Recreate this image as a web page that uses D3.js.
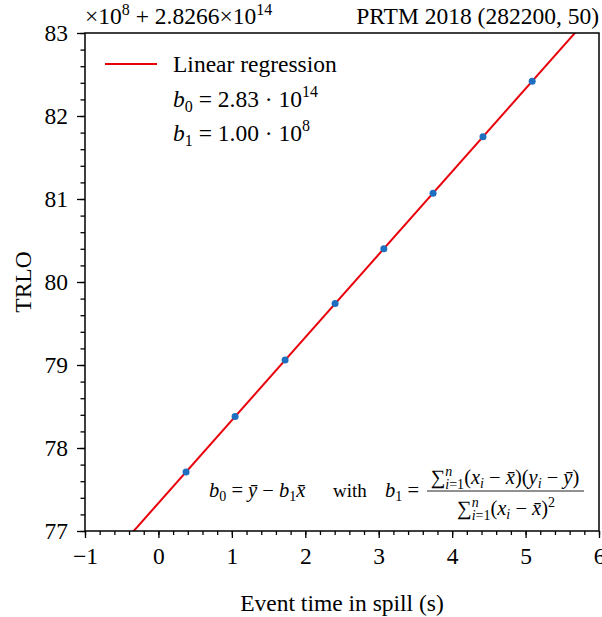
<!DOCTYPE html>
<html>
<head>
<meta charset="utf-8">
<script src="https://cdn.jsdelivr.net/npm/d3@7"></script>
<style>
  body { margin: 0; background: #fff; }
  text { font-family: "Liberation Serif", "DejaVu Serif", serif; fill: #000; white-space: pre; }
</style>
</head>
<body>
<svg id="chart" width="602" height="617"></svg>
<script>
// event times (s) and TRLO values (offset units of 1e8 above 2.8266e14)
const eventTimes = [0.376, 1.044, 1.725, 2.406, 3.07, 3.74, 4.42, 5.09];
const trloValues = [77.71, 78.38, 79.06, 79.74, 80.40, 81.07, 81.75, 82.42];
const xTicks = [-1, 0, 1, 2, 3, 4, 5, 6];
const yTicks = [77, 78, 79, 80, 81, 82, 83];

const svg = d3.select("#chart");
const margin = { left: 85, right: 3, top: 33, bottom: 86 };
const width = 602 - margin.left - margin.right,
    height = 617 - margin.top - margin.bottom;
const fs = "23.5px";

const x = d3.scaleLinear().domain([-1, 6]).range([0, width]);
const y = d3.scaleLinear().domain([77, 83]).range([height, 0]);

const g = svg.append("g").attr("transform", `translate(${margin.left},${margin.top})`);

// least squares fit
const mx = d3.mean(eventTimes), my = d3.mean(trloValues);
const b1 = d3.sum(eventTimes, (t, i) => (t - mx) * (trloValues[i] - my)) /
    d3.sum(eventTimes, t => (t - mx) * (t - mx));
const b0 = my - b1 * mx;

g.append("clipPath").attr("id", "clip")
    .append("rect").attr("width", width).attr("height", height);

g.append("line")
    .attr("clip-path", "url(#clip)")
    .attr("x1", x(-1)).attr("y1", y(b0 + b1 * -1))
    .attr("x2", x(6)).attr("y2", y(b0 + b1 * 6))
    .attr("stroke", "#e8000b").attr("stroke-width", 2);

g.selectAll("circle.pt")
    .data(eventTimes)
    .enter().append("circle")
    .attr("class", "pt")
    .attr("cx", d => x(d))
    .attr("cy", (d, i) => y(trloValues[i]))
    .attr("r", 3.5)
    .attr("fill", "#1f6fc0");

// axes
const xMinor = d3.range(-1, 6.001, 0.2);
const yMinor = d3.range(77, 83.001, 0.2);

const xAxis = g.append("g").attr("transform", `translate(0,${height})`)
    .call(d3.axisBottom(x).tickValues(xMinor).tickSize(4).tickFormat(""));
const xAxisMaj = g.append("g").attr("transform", `translate(0,${height})`)
    .call(d3.axisBottom(x).tickValues(xTicks).tickSize(7).tickPadding(9)
        .tickFormat(d => d < 0 ? "\u2212" + Math.abs(d) : d));
const yAxis = g.append("g")
    .call(d3.axisLeft(y).tickValues(yMinor).tickSize(4.5).tickFormat(""));
const yAxisMaj = g.append("g")
    .call(d3.axisLeft(y).tickValues(yTicks).tickSize(8).tickPadding(9).tickFormat(d3.format("d")));

[xAxis, xAxisMaj, yAxis, yAxisMaj].forEach(a => {
    a.select(".domain").remove();
    a.selectAll("line").attr("stroke", "#000").attr("stroke-width", 1.3);
    a.selectAll("text").style("font-size", fs).style("font-family", "Liberation Serif").attr("fill", "#000");
});

g.append("rect").attr("width", width).attr("height", height)
    .attr("fill", "none").attr("stroke", "#000").attr("stroke-width", 1.5);

// labels
svg.append("text")
    .attr("x", margin.left + width / 2).attr("y", 611)
    .attr("text-anchor", "middle").style("font-size", fs)
    .text("Event time in spill (s)");

svg.append("text")
    .attr("transform", `translate(31,${margin.top + height / 2}) rotate(-90)`)
    .attr("text-anchor", "middle").style("font-size", fs)
    .text("TRLO");

svg.append("text")
    .attr("x", 599).attr("y", 24)
    .attr("text-anchor", "end").style("font-size", fs)
    .text("PRTM 2018 (282200, 50)");

const off = svg.append("text").attr("x", 85).attr("y", 24).style("font-size", fs);
off.append("tspan").text("\u00d710");
off.append("tspan").attr("dy", -9).style("font-size", "16px").text("8");
off.append("tspan").attr("dy", 9).text(" + 2.8266\u00d710");
off.append("tspan").attr("dy", -9).style("font-size", "16px").text("14");

// legend
const leg = g.append("g");
leg.append("line").attr("x1", 20).attr("x2", 72).attr("y1", 31).attr("y2", 31)
    .attr("stroke", "#e8000b").attr("stroke-width", 2);
leg.append("text").attr("x", 88).attr("y", 39).style("font-size", fs).text("Linear regression");

function coefLine(yy, sub, val, exp) {
    const t = leg.append("text").attr("x", 88).attr("y", yy).style("font-size", fs);
    t.append("tspan").style("font-style", "italic").text("b");
    t.append("tspan").attr("dy", 5).style("font-size", "16px").text(sub);
    t.append("tspan").attr("dy", -5).text(" = " + val + " \u00b7 10");
    t.append("tspan").attr("dy", -10).style("font-size", "16px").text(exp);
}
coefLine(74, "0", d3.format(".2f")((b0 * 1e8 + 2.8266e14) / 1e14), "14");
coefLine(108, "1", d3.format(".2f")(b1), "8");

// formula, built from runs: [text, italic, shift] (shift > 0 lowers the run)
const fc = "#222";
const ffs = 20.5, sfs = 14;
function formula(xx, yy, anchor, runs) {
    const t = svg.append("text").attr("x", xx).attr("y", yy).attr("text-anchor", anchor)
        .style("font-size", ffs + "px").attr("fill", fc);
    let cur = 0;
    runs.forEach(([s, italic, shift, dx]) => {
        shift = shift || 0;
        const sp = t.append("tspan").attr("dy", shift - cur).text(s);
        if (dx) sp.attr("dx", dx);
        if (italic) sp.style("font-style", "italic");
        if (shift !== 0) sp.style("font-size", sfs + "px");
        cur = shift;
    });
    return t;
}
const sumRuns = [["\u2211", 0, 0], ["n", 1, -8], ["i", 1, 5, -7], ["=1", 0, 5], ["(", 0, 0]];

formula(209, 497, "start", [
    ["b", 1], ["0", 0, 4], [" = "], ["\u0233", 1], [" \u2212 "], ["b", 1], ["1", 0, 4], ["x\u0304", 1]
]);
svg.append("text").attr("x", 333).attr("y", 497).style("font-size", "19px").attr("fill", fc).text("with");
formula(385, 497, "start", [["b", 1], ["1", 0, 4], [" = "]]);

svg.append("line").attr("x1", 427).attr("x2", 584).attr("y1", 491).attr("y2", 491)
    .attr("stroke", fc).attr("stroke-width", 1);

formula(505, 484, "middle", sumRuns.concat([
    ["x", 1], ["i", 1, 4], [" \u2212 "], ["x\u0304", 1], [")("],
    ["y", 1], ["i", 1, 4], [" \u2212 "], ["\u0233", 1], [")"]
]));
formula(506, 515, "middle", sumRuns.concat([
    ["x", 1], ["i", 1, 4], [" \u2212 "], ["x\u0304", 1], [")"], ["2", 0, -8]
]));
</script>
</body>
</html>
